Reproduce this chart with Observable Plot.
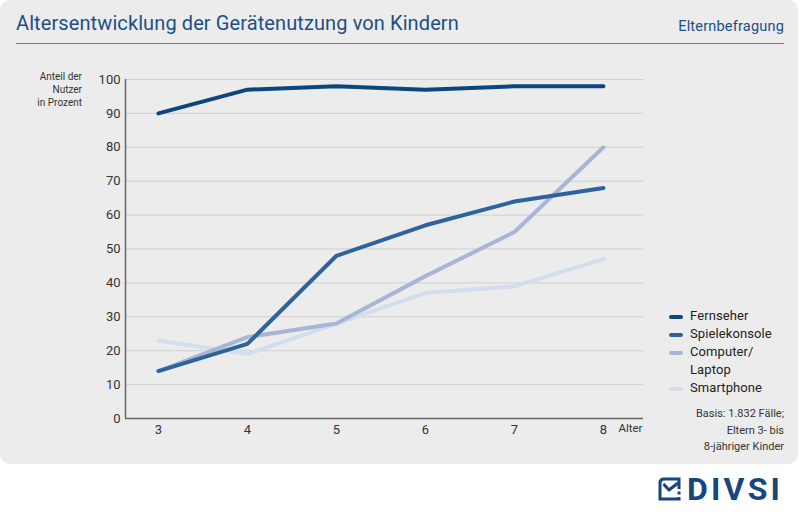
<!DOCTYPE html>
<html>
<head>
<meta charset="utf-8">
<script src="https://cdn.jsdelivr.net/npm/d3@7"></script>
<script src="https://cdn.jsdelivr.net/npm/@observablehq/plot@0.6"></script>
<style>
  html, body { margin: 0; padding: 0; background: #fff; }
  body { width: 800px; height: 515px; position: relative; font-family: Roboto, "Noto Sans", sans-serif; overflow: hidden; }
  #card { position: absolute; left: 0; top: 0; width: 798px; height: 464px; background: #ececec; border-radius: 10px; }
  #title { position: absolute; left: 16px; top: 11px; font-size: 20px; color: #1d4f86; letter-spacing: 0.1px; }
  #subtitle { position: absolute; right: 16px; top: 18px; font-size: 14.5px; color: #1d4f86; letter-spacing: 0.2px; }
  #rule { position: absolute; left: 16px; top: 43px; width: 768px; height: 1px; background: #4f86bf; }
  #ylabel { position: absolute; right: 718px; top: 70px; font-size: 10px; line-height: 13px; color: #333; text-align: right; }
  #chart { position: absolute; left: 0; top: 0; }
  #legend { position: absolute; left: 669px; top: 307px; font-size: 13px; color: #222; }
  .li { position: relative; height: 18px; line-height: 18px; padding-left: 21px; white-space: nowrap; letter-spacing: 0.1px; }
  .sw { position: absolute; left: 0; top: 8px; width: 14px; height: 4px; border-radius: 2px; }
  #note { position: absolute; right: 16px; top: 406px; font-size: 11px; line-height: 16.5px; color: #333; text-align: right; }
  #logo { position: absolute; left: 658px; top: 477px; height: 26px; color: #17457d; }
  #logo svg { position: absolute; left: 0; top: 0; }
  #logo span { position: absolute; left: 29px; top: -7px; font-size: 32px; font-weight: 700; letter-spacing: 3.2px; font-family: Roboto, sans-serif; white-space: nowrap; }
</style>
</head>
<body>
<div id="card"></div>
<div id="title">Altersentwicklung der Gerätenutzung von Kindern</div>
<div id="subtitle">Elternbefragung</div>
<div id="rule"></div>
<div id="ylabel">Anteil der<br>Nutzer<br>in Prozent</div>
<div id="chart"></div>
<div id="legend"></div>
<div id="note">Basis: 1.832 Fälle;<br>Eltern 3- bis<br>8-jähriger Kinder</div>
<div id="logo">
  <svg width="24" height="24" viewBox="0 0 24 24">
    <path d="M21 12 V2 H6 Q2 2 2 6 V22 H21 V20" fill="none" stroke="#17457d" stroke-width="3"/>
    <path d="M5.5 7 L11 13 L20 6" fill="none" stroke="#17457d" stroke-width="3" stroke-linejoin="round"/>
    <rect x="19.5" y="14.5" width="3" height="3" fill="#17457d"/>
  </svg>
  <span>DIVSI</span>
</div>
<script>
const ages = [3, 4, 5, 6, 7, 8];
const fernseher = [90, 97, 98, 97, 98, 98];
const spielekonsole = [14, 22, 48, 57, 64, 68];
const computer = [14, 24, 28, 42, 55, 80];
const smartphone = [23, 19, 28, 37, 39, 47];
const yTicks = [0, 10, 20, 30, 40, 50, 60, 70, 80, 90, 100];

const series = [
  { name: "Smartphone", label: "Smartphone", values: smartphone, color: "#d3ddee" },
  { name: "Computer", label: "Computer/<br>Laptop", values: computer, color: "#a8b6d5" },
  { name: "Spielekonsole", label: "Spielekonsole", values: spielekonsole, color: "#2f639c" },
  { name: "Fernseher", label: "Fernseher", values: fernseher, color: "#0c4580" }
];

const data = series.flatMap(s => ages.map((a, i) => ({ series: s.name, age: a, value: s.values[i] })));

const chart = Plot.plot({
  width: 800,
  height: 464,
  marginLeft: 125,
  marginRight: 157,
  marginTop: 79,
  marginBottom: 46,
  style: { background: "transparent", fontFamily: "Roboto, sans-serif", fontSize: "13px", color: "#333" },
  x: { domain: [2.63, 8.45], label: null },
  y: { domain: [0, 100], label: null },
  color: { domain: series.map(s => s.name), range: series.map(s => s.color) },
  marks: [
    Plot.gridY(yTicks.filter(t => t > 0), { stroke: "#cfcfcf", strokeOpacity: 1, strokeWidth: 1 }),
    Plot.axisY({ ticks: yTicks, tickSize: 0, tickPadding: 5, label: null, fontSize: 13, tickFormat: d => String(d) }),
    Plot.axisX({ ticks: ages, tickSize: 0, tickPadding: 6, label: null, fontSize: 13, tickFormat: d => String(d) }),
    Plot.ruleY([0], { stroke: "#666", strokeWidth: 1.5 }),
    Plot.ruleX([2.63], { stroke: "#666", strokeWidth: 1.5 }),
    Plot.line(data, { x: "age", y: "value", z: "series", stroke: "series", strokeWidth: 4, strokeLinejoin: "round", strokeLinecap: "round" }),
    Plot.text(["Alter"], { frameAnchor: "bottom-right", dy: 13, dx: -1, fontSize: 11.5, fill: "#333" })
  ]
});
document.getElementById("chart").appendChild(chart);

const legend = document.getElementById("legend");
[...series].reverse().forEach(s => {
  const parts = s.label.split("<br>");
  parts.forEach((p, j) => {
    const d = document.createElement("div");
    d.className = "li";
    d.textContent = p;
    if (j === 0) {
      const sw = document.createElement("span");
      sw.className = "sw";
      sw.style.background = s.color;
      d.appendChild(sw);
    }
    legend.appendChild(d);
  });
});
</script>
</body>
</html>
